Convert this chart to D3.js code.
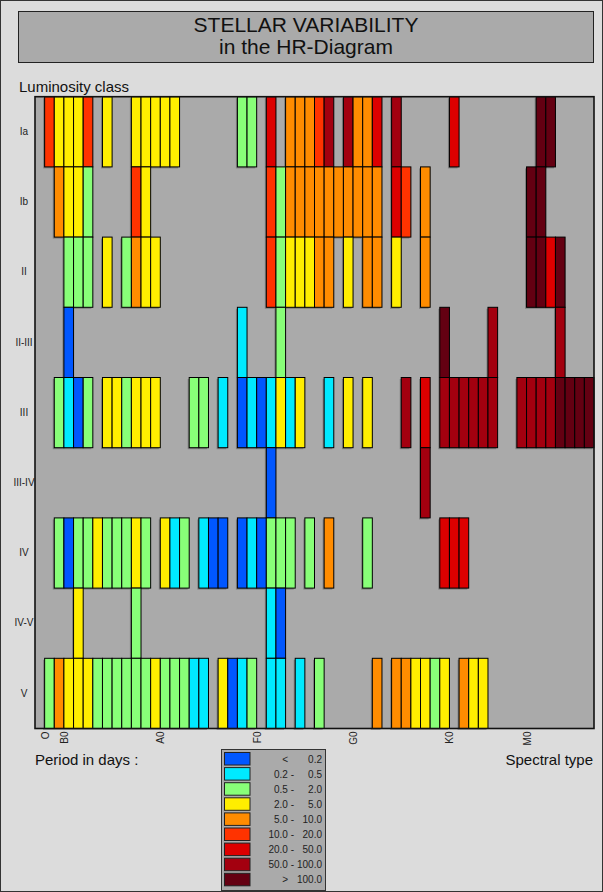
<!DOCTYPE html>
<html>
<head>
<meta charset="utf-8">
<script src="https://cdn.jsdelivr.net/npm/d3@7"></script>
<style>
  body { margin: 0; background: #dcdcdc; }
  svg { display: block; font-family: "Liberation Sans", Arial, sans-serif; }
</style>
</head>
<body>
<svg id="chart" width="603" height="892"></svg>
<script>
// ---------- data ----------

const lumClasses = ["Ia", "Ib", "II", "II-III", "III", "III-IV", "IV", "IV-V", "V"];

// spectral subtype columns: 0 = first O column, 2 = B0, 12 = A0 ...
const tickLabels = ["O", "B0", "A0", "F0", "G0", "K0", "M0"];
const tickCols = [0, 2, 12, 22, 32, 42, 50];
const nCols = 57;

// period bins (legend)
const binLeft = ["<", "0.2 -", "0.5 -", "2.0 -", "5.0 -", "10.0 -", "20.0 -", "50.0 -", ">"];
const binRight = ["0.2", "0.5", "2.0", "5.0", "10.0", "20.0", "50.0", "100.0", "100.0"];
const binColors = ["#0057ff", "#00eaff", "#88ff78", "#ffee00", "#ff8c00",
                   "#ff3300", "#dd0000", "#a3000f", "#640012"];

// cells per luminosity class: [column, period bin]
const rowIa = [[0,5],[1,3],[2,3],[3,3],[4,5],[6,3],[9,3],[10,3],[11,3],[12,3],[13,3],
  [20,2],[21,2],[23,6],[25,4],[26,4],[27,4],[28,5],[29,7],[31,7],[32,4],[33,4],[34,6],
  [36,7],[42,6],[51,8],[52,8]];
const rowIb = [[1,4],[2,3],[3,3],[4,2],[9,5],[10,3],[23,5],[24,2],[25,4],[26,4],[27,4],
  [28,4],[29,4],[30,4],[31,4],[32,4],[33,4],[34,4],[36,6],[37,5],[39,4],[50,8],[51,8]];
const rowII = [[2,2],[3,2],[4,2],[6,3],[8,2],[9,4],[10,3],[11,3],[23,5],[24,2],[25,3],
  [26,3],[27,3],[28,4],[29,4],[31,3],[33,4],[34,4],[36,3],[39,4],[50,8],[51,8],[52,6],[53,8]];
const rowIIIII = [[2,0],[20,1],[24,2],[41,8],[46,7],[53,7]];
const rowIII = [[1,2],[2,1],[3,0],[4,2],[6,3],[7,3],[8,2],[9,3],[10,3],[11,3],[15,2],
  [16,2],[18,1],[20,0],[21,1],[22,0],[23,1],[24,3],[25,1],[26,3],[29,1],[31,3],[33,3],
  [37,7],[39,6],[41,7],[42,7],[43,7],[44,7],[45,7],[46,7],[49,7],[50,7],[51,7],[52,7],
  [53,8],[54,8],[55,8],[56,8]];
const rowIIIIV = [[23,0],[39,7]];
const rowIV = [[1,2],[2,0],[3,2],[4,2],[5,3],[6,2],[7,2],[8,2],[9,3],[10,2],[12,3],
  [13,1],[14,2],[16,1],[17,0],[18,0],[20,0],[21,1],[22,0],[23,2],[24,2],[25,2],[27,2],
  [29,4],[33,2],[41,6],[42,6],[43,6]];
const rowIVV = [[3,3],[9,2],[23,1],[24,0]];
const rowV = [[0,2],[1,4],[2,3],[3,3],[4,3],[5,2],[6,2],[7,2],[8,2],[9,2],[10,2],
  [11,3],[12,2],[13,2],[14,2],[15,1],[16,1],[18,3],[19,0],[20,1],[21,2],[23,1],[24,1],
  [26,1],[28,2],[34,4],[36,4],[37,4],[38,3],[39,3],[40,2],[41,3],[43,4],[44,3],[45,3]];

const rows = [rowIa, rowIb, rowII, rowIIIII, rowIII, rowIIIIV, rowIV, rowIVV, rowV];

// flatten to cell list
const cells = [];
rows.forEach((r, ri) => {
  r.forEach(([col, bin]) => cells.push({ lum: lumClasses[ri], col, bin }));
});

// ---------- layout ----------

const svg = d3.select("#chart");
const W = 603, H = 892;
const plot = { left: 35, right: 594, top: 96.7, bottom: 728.5 };

const x = d3.scaleLinear().domain([-1, nCols]).range([plot.left, plot.right]);
const y = d3.scaleBand().domain(lumClasses).range([plot.top, plot.bottom]);
const color = d3.scaleOrdinal().domain(d3.range(binColors.length)).range(binColors);

// page frame
svg.append("rect")
  .attr("x", 0.5).attr("y", 0.5).attr("width", W - 1).attr("height", H - 1)
  .attr("fill", "#dcdcdc").attr("stroke", "#333");

// title box
svg.append("rect")
  .attr("x", 18.5).attr("y", 11.5).attr("width", 575).attr("height", 51)
  .attr("fill", "#aaaaaa").attr("stroke", "#222");

svg.append("text")
  .attr("x", 306).attr("y", 31.5)
  .attr("text-anchor", "middle").attr("font-size", 21).attr("fill", "#111")
  .text("STELLAR VARIABILITY");
svg.append("text")
  .attr("x", 306).attr("y", 53.5)
  .attr("text-anchor", "middle").attr("font-size", 21).attr("fill", "#111")
  .text("in the HR-Diagram");

svg.append("text")
  .attr("x", 19).attr("y", 92).attr("font-size", 15).attr("fill", "#111")
  .text("Luminosity class");

// plot background
svg.append("rect")
  .attr("x", plot.left).attr("y", plot.top)
  .attr("width", plot.right - plot.left).attr("height", plot.bottom - plot.top)
  .attr("fill", "#aaaaaa");

// cell shadows, then cells
svg.append("g")
  .selectAll("rect")
  .data(cells)
  .join("rect")
  .attr("x", (d) => x(d.col) - 1.5)
  .attr("y", (d) => y(d.lum) + 1.5)
  .attr("width", (d) => x(d.col + 1) - x(d.col))
  .attr("height", y.bandwidth())
  .attr("fill", "rgba(0,0,0,0.25)");

svg.append("g")
  .selectAll("rect")
  .data(cells)
  .join("rect")
  .attr("x", (d) => x(d.col))
  .attr("y", (d) => y(d.lum))
  .attr("width", (d) => x(d.col + 1) - x(d.col))
  .attr("height", y.bandwidth())
  .attr("fill", (d) => color(d.bin))
  .attr("stroke", "#000")
  .attr("stroke-width", 1);

// plot frame
svg.append("rect")
  .attr("x", plot.left).attr("y", plot.top)
  .attr("width", plot.right - plot.left).attr("height", plot.bottom - plot.top)
  .attr("fill", "none").attr("stroke", "#111").attr("stroke-width", 1.6);

// luminosity class labels
const yAxis = svg.append("g")
  .attr("transform", `translate(24,0)`)
  .call(d3.axisLeft(y).tickSize(0).tickPadding(0));
yAxis.select(".domain").remove();
yAxis.selectAll("text")
  .attr("text-anchor", "middle")
  .attr("font-family", "Liberation Sans, Arial, sans-serif")
  .attr("font-size", 10).attr("fill", "#222");

// spectral type labels
const xAxis = svg.append("g")
  .attr("transform", `translate(0,${plot.bottom})`)
  .call(d3.axisBottom(x).tickValues(tickCols)
    .tickFormat((d, i) => tickLabels[i]).tickSize(0).tickPadding(0));
xAxis.select(".domain").remove();
xAxis.selectAll("text")
  .attr("font-family", "Liberation Sans, Arial, sans-serif")
  .attr("font-size", 10).attr("fill", "#222")
  .attr("text-anchor", "end")
  .attr("dy", "0.35em")
  .attr("transform", "translate(0,3) rotate(-90)");

svg.append("text")
  .attr("x", 35).attr("y", 765).attr("font-size", 15).attr("fill", "#111")
  .text("Period in days :");
svg.append("text")
  .attr("x", 593).attr("y", 765).attr("text-anchor", "end")
  .attr("font-size", 15).attr("fill", "#111")
  .text("Spectral type");

// legend
const legend = svg.append("g").attr("transform", "translate(221,749)");
legend.append("rect")
  .attr("x", 0.5).attr("y", 0.5).attr("width", 104).attr("height", 141)
  .attr("fill", "#aaaaaa").attr("stroke", "#333");

const item = legend.selectAll("g.item")
  .data(binColors)
  .join("g")
  .attr("class", "item")
  .attr("transform", (d, i) => `translate(0,${3.5 + i * 15.1})`);

item.append("rect")
  .attr("x", 3.5).attr("width", 25.5).attr("height", 12.5)
  .attr("fill", (d) => d).attr("stroke", "#222");

item.append("text")
  .attr("x", (d, i) => (i === 0 || i === binColors.length - 1) ? 67 : 73)
  .attr("y", 10).attr("text-anchor", "end")
  .attr("font-size", 10).attr("fill", "#222")
  .text((d, i) => binLeft[i]);

item.append("text")
  .attr("x", 101).attr("y", 10).attr("text-anchor", "end")
  .attr("font-size", 10).attr("fill", "#222")
  .text((d, i) => binRight[i]);
</script>
</body>
</html>
